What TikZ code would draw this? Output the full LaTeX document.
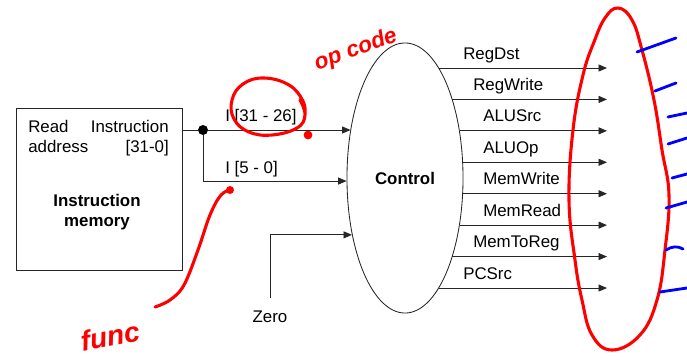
\documentclass[tikz,border=0pt]{standalone}
\usepackage{fontspec}
\setmainfont{Liberation Sans}
\usetikzlibrary{shapes, arrows.meta, positioning, calc}

\begin{document}
\begin{tikzpicture}[x=0.025cm, y=-0.025cm,
					every node/.style={font=\fontsize{12}{14}\selectfont, inner sep=0pt},
					wire/.style={draw=black!85, line width=0.6pt},
					sig/.style={wire, -{Triangle[length=6pt, width=5pt]}},
					ink/.style={red, line width=2.2pt, line cap=round, line join=round},
					tick/.style={blue, line width=2pt, line cap=round}]
	\useasboundingbox (0,0) rectangle (687,362);

	% instruction memory
	\node[draw=black!85, line width=0.6pt, minimum width=4.15cm, minimum height=4.05cm,
		anchor=north west] (imem) at (16,108) {};
	\node[anchor=base west] (rd)   at (28,132)  {Read};
	\node[anchor=base east] (ins)  at (169,132) {Instruction};
	\node[anchor=base west] (addr) at (28,152)  {address};
	\node[anchor=base east] (bits) at (169,152) {[31-0]};
	\node[font=\fontsize{12}{14.5}\selectfont\bfseries, align=center] (imname) at (97,212)
		{Instruction\\memory};

	% control unit
	\node[draw=black!85, line width=0.6pt, ellipse, minimum width=2.9cm, minimum height=6.75cm,
		font=\fontsize{12}{14}\selectfont\bfseries] (ctrl) at (405,178) {Control};

	% rim angles of the inputs
	\pgfmathsetmacro\angop{atan2(178-130,-58*sqrt(1-((130-178)/135)^2))}
	\pgfmathsetmacro\angfn{atan2(178-181,-58*sqrt(1-((181-178)/135)^2))}
	\pgfmathsetmacro\angzr{atan2(178-234,-58*sqrt(1-((234-178)/135)^2))}

	% inputs
	\node[circle, fill=black, minimum size=0.25cm] (dot) at (203,130) {};
	\draw[wire] (imem.east |- dot) -- (dot);
	\draw[sig] (dot) -- (dot -| ctrl.\angop);
	\draw[sig] (dot) |- (ctrl.\angfn);
	\node[anchor=base west] (op) at (225,121) {I [31 - 26]};
	\node[anchor=base west] (fn) at (225,173) {I [5 - 0]};
	\node[anchor=base] (zero) at (270,322) {Zero};
	\draw[sig] ([yshift=0.3cm]zero.north) |- (ctrl.\angzr);

	% control lines
	\foreach \sig/\lx [count=\i] in {RegDst/463, RegWrite/473, ALUSrc/483, ALUOp/483,
									MemWrite/483, MemRead/483, MemToReg/473, PCSrc/463}
	{
		\pgfmathsetmacro\yy{68+31.43*(\i-1)}
		\pgfmathsetmacro\ang{atan2(178-\yy,58*sqrt(1-((\yy-178)/135)^2))}
		\coordinate (end\i) at (607,\yy);
		\draw[sig] (end\i -| ctrl.\ang) -- (end\i);
		\node[anchor=base west] (lab\i) at (\lx,\yy-9) {\sig};
	}

	% notes in red
	\draw[ink] plot[smooth, tension=0.7] coordinates {(300,100) (305,115) (297,128) (272,135) (249,132)
		(234,119) (232,100) (243,84) (264,78) (289,85) (303,101) (305,114)};
	\fill[red] (308,135) circle (0.11cm);
	\node[red, rotate=20, font=\fontsize{16}{18}\selectfont\bfseries\itshape] (opnote) at (356,50) {op code};
	\draw[ink] plot[smooth, tension=0.6] coordinates {(155,307) (170,300) (184,285) (198,250)
		(210,215) (221,195) (232,189)};
	\fill[red] (230,190) circle (0.1cm);
	\node[red, rotate=10, font=\fontsize{20}{22}\selectfont\bfseries\itshape] (fnnote) at (110,336) {func};
	\draw[ink] plot[smooth cycle, tension=0.7] coordinates {(618,8) (632,20) (642,50) (654,100)
		(662,150) (669,195) (665,250) (657,300) (640,335) (612,350) (592,335) (582,300) (575,260)
		(569,200) (573,130) (583,75) (594,42) (605,18)};

	% ticks in blue
	\draw[tick] (637,52) -- (676,38);
	\draw[tick] (655,91) -- (676,83);
	\draw[tick] (668,117) -- (687,113);
	\draw[tick] (668,144) -- (687,138);
	\draw[tick] (672,178) -- (687,174);
	\draw[tick] (666,208) -- (687,202);
	\draw[tick] (666,250) .. controls (672,246) and (678,246) .. (683,249);
	\draw[tick] (660,292) -- (687,288);
\end{tikzpicture}
\end{document}
